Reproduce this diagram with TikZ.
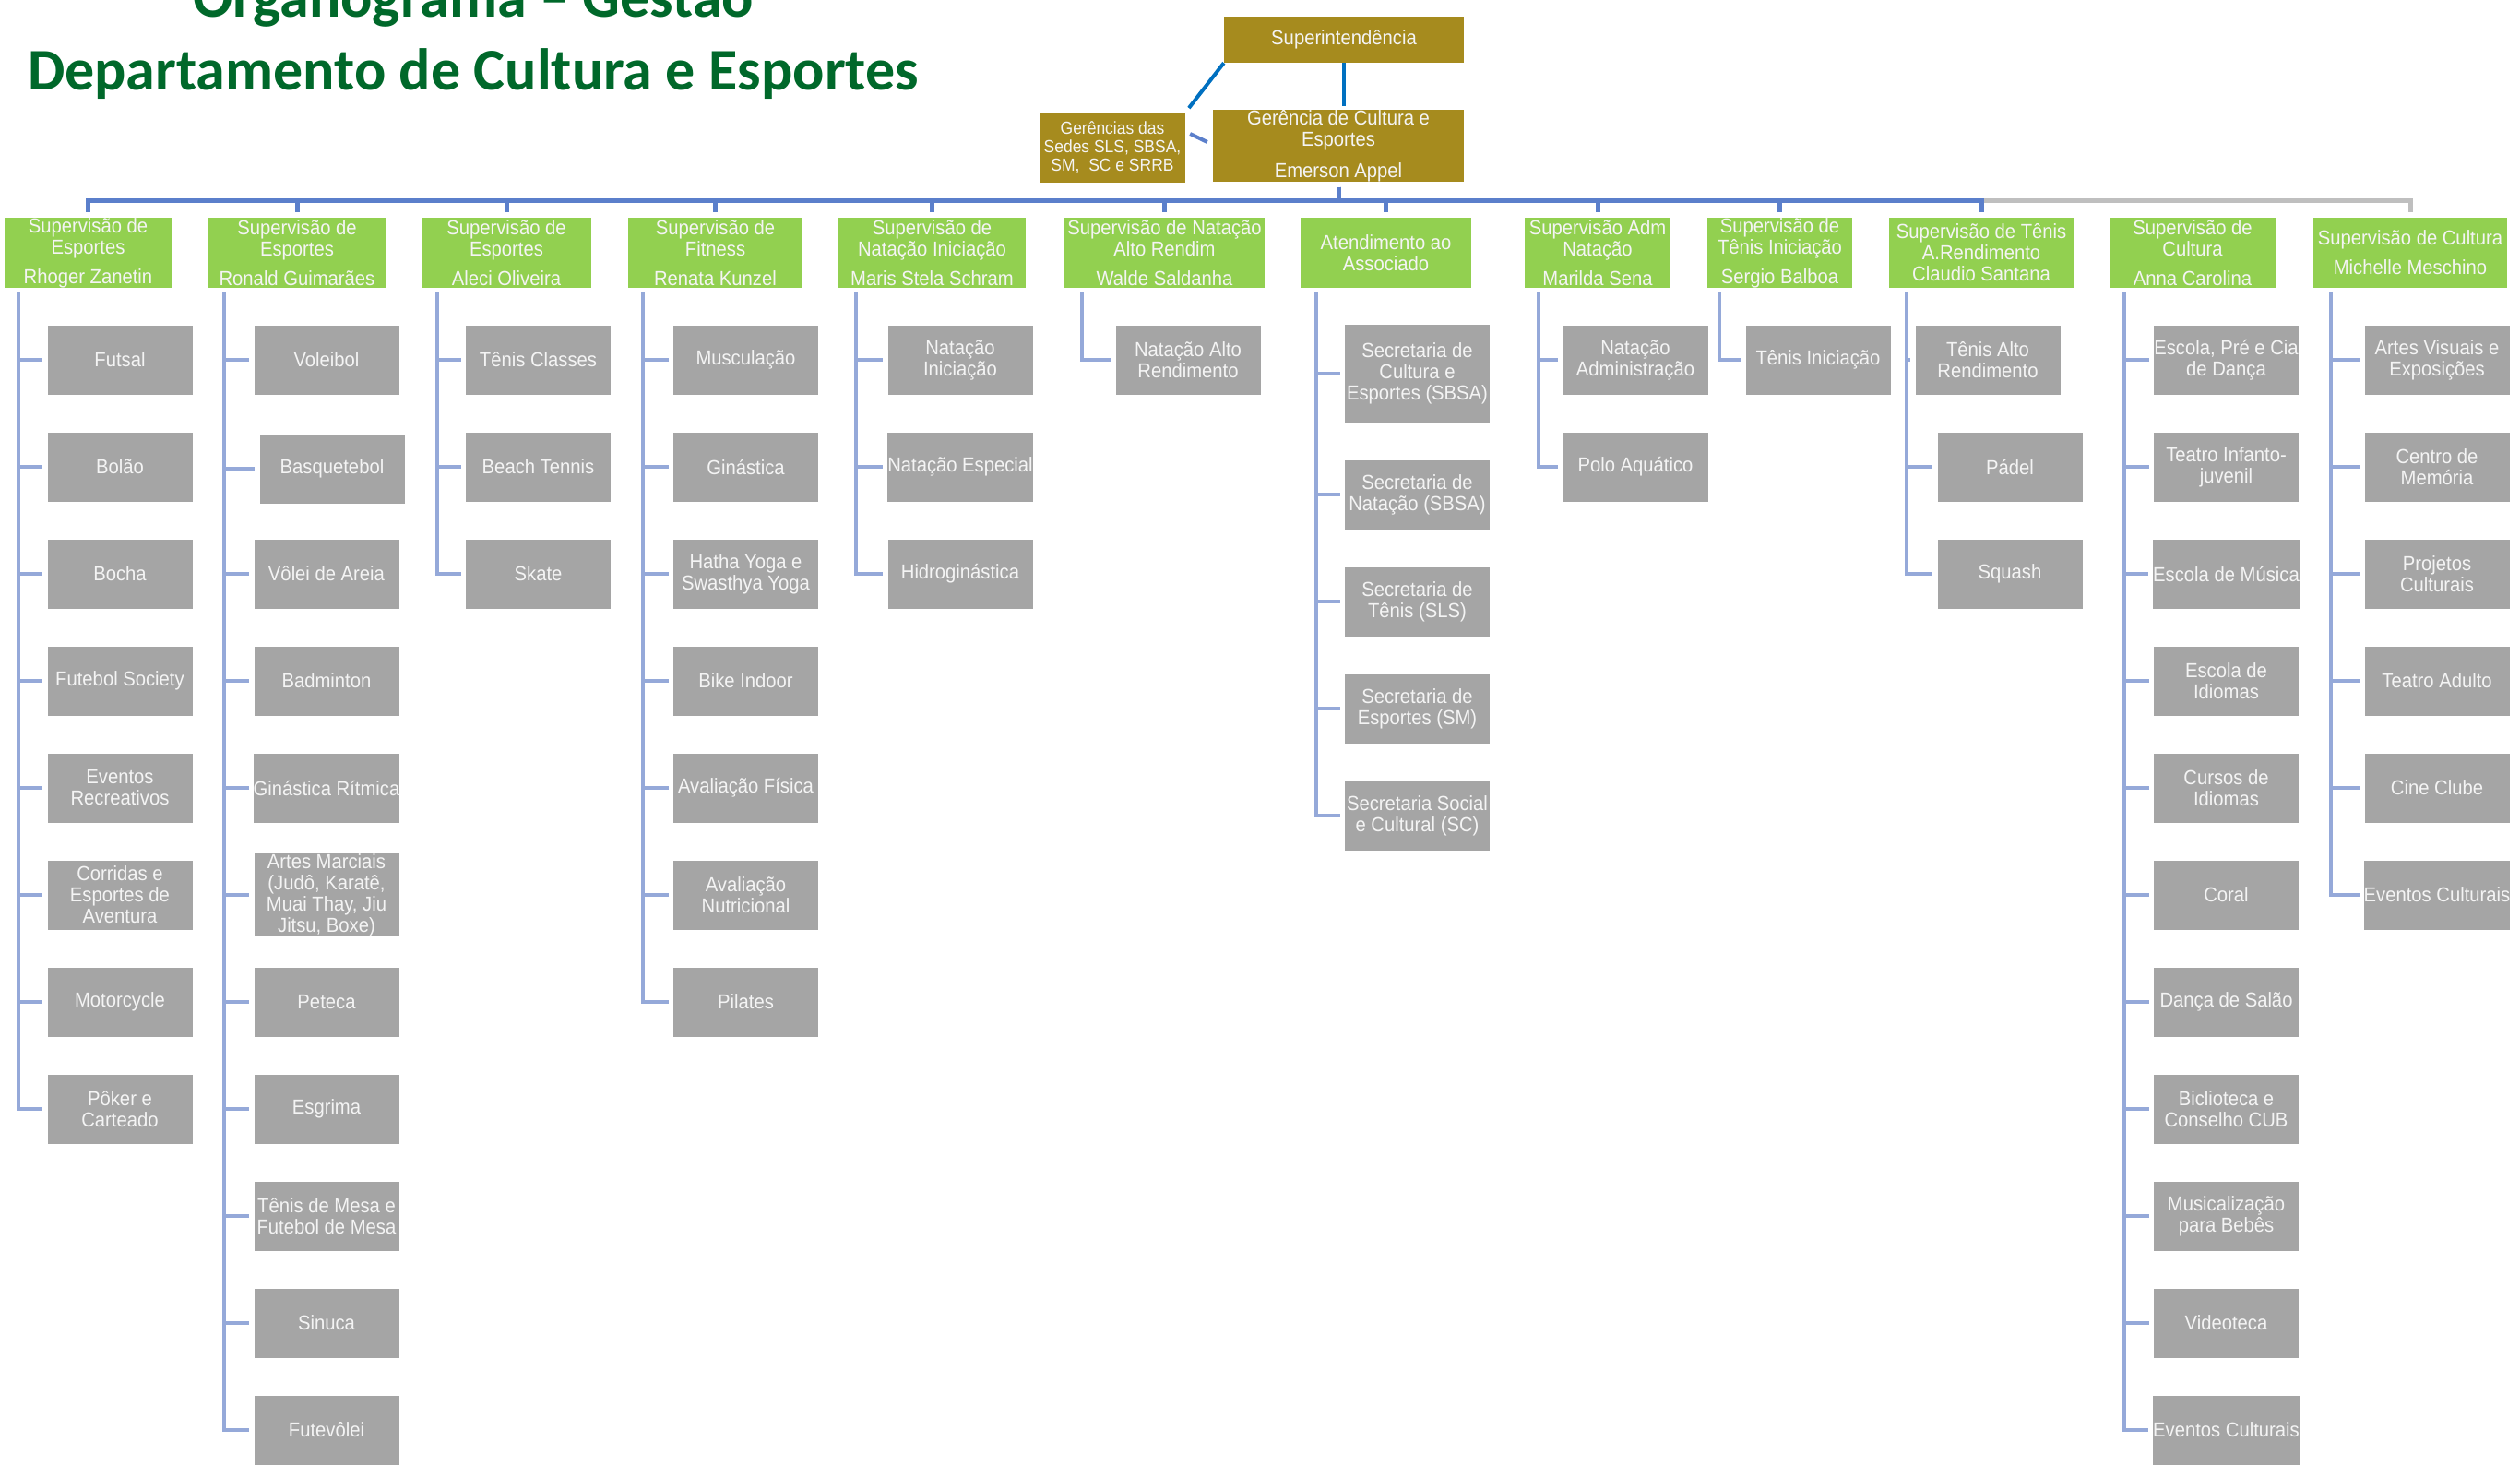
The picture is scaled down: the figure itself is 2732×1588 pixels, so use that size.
\documentclass[tikz,border=0pt]{standalone}
\usepackage{fontspec}
\setmainfont{Liberation Sans}
\newfontfamily\caixa[FakeStretch=0.92]{Liberation Sans}
\newfontfamily\titfont{Carlito}
\definecolor{verde}{HTML}{92D050}
\definecolor{cinza}{HTML}{A5A5A5}
\definecolor{ouro}{HTML}{A68B1E}
\definecolor{linha}{HTML}{95A9D9}
\definecolor{barra}{HTML}{5B7FCB}
\definecolor{barracinza}{HTML}{BFBFBF}
\definecolor{azul}{HTML}{0070C0}
\definecolor{titverde}{HTML}{00682A}
\definecolor{texto}{HTML}{F4F4F4}

\begin{document}
\begin{tikzpicture}[x=1pt, y=-1pt,
    every node/.style={inner sep=0pt, align=center, text=texto,
        font=\caixa\fontsize{22}{23}\selectfont},
    chefe/.style={fill=verde, minimum height=76pt},
    item/.style={fill=cinza, minimum width=157pt, minimum height=75pt},
    diretoria/.style={fill=ouro},
    ramo/.style={draw=linha, line width=4.5pt, shorten >=5pt},
    barramento/.style={draw=barra, line width=5pt, shorten <=6pt, shorten >=6pt},
    ligacao/.style={draw=azul, line width=4pt}]
    \useasboundingbox (0,0) rectangle (2732,1588);

    % titulo
    \node[anchor=base, text=titverde, font=\titfont\bfseries\fontsize{64}{72}\selectfont]
        (tit1) at (513,18) {Organograma – Gestão};
    \node[anchor=base, text=titverde, font=\titfont\bfseries\fontsize{64}{72}\selectfont]
        (tit2) at (513,97) {Departamento de Cultura e Esportes};

    \node[diretoria, minimum width=260pt, minimum height=50pt] (sup) at (1457,43)
        {Superintendência};
    \node[diretoria, minimum width=272pt, minimum height=76pt] (ger) at (1451,158)
        {Gerência de Cultura e\\Esportes\\[11pt]Emerson Appel};
    \node[diretoria, minimum width=158pt, minimum height=76pt,
        font=\caixa\fontsize{19}{20}\selectfont] (sedes) at (1206,160)
        {Gerências das\\Sedes SLS, SBSA,\\SM,\ \ SC e SRRB};

    \draw[ligacao, shorten >=4pt] (sup.south) -- (sup.south |- ger.north);
    \draw[ligacao, shorten >=6pt] (sup.south west) -- (sedes.north east);
    \draw[ligacao, draw=barra] ([shift={(5,-15)}]sedes.east) -- ([shift={(-6,-4)}]ger.west);

    % supervisoes
    \foreach \l/\r/\t [count=\i] in {
        5/186/{Supervisão de\\Esportes\\[9pt]Rhoger Zanetin},
        226/418/{Supervisão de\\Esportes\\[9pt]Ronald Guimarães},
        457/641/{Supervisão de\\Esportes\\[9pt]Aleci Oliveira},
        681/870/{Supervisão de\\Fitness\\[9pt]Renata Kunzel},
        909/1112/{Supervisão de\\Natação Iniciação\\[9pt]Maris Stela Schram},
        1154/1371/{Supervisão de Natação\\Alto Rendim\\[9pt]Walde Saldanha},
        1410/1595/{Atendimento ao\\Associado},
        1653/1811/{Supervisão Adm\\Natação\\[9pt]Marilda Sena},
        1851/2008/{Supervisão de\\Tênis Iniciação\\[9pt]Sergio Balboa},
        2048/2248/{Supervisão de Tênis\\A.Rendimento\\Claudio Santana},
        2287/2467/{Supervisão de\\Cultura\\[9pt]Anna Carolina},
        2508/2718/{Supervisão de Cultura\\[9pt]Michelle Meschino}}
        \node[chefe, minimum width=\r-\l] (s\i) at ({(\l+\r)/2},274) {\t};

    \coordinate (bus) at (1450,217);
    \draw[barramento, draw=barracinza, shorten <=0pt] (s10.north |- bus) -| (s12.north);
    \foreach \i in {1,...,10}
        \draw[barramento] (ger.south) -- (ger.south |- bus) -| (s\i.north);

    % topo das linhas de cada coluna
    \foreach \x [count=\c] in {20,243,474,697,928,1173,1427,1668,1864,2067,2303,2527}
        \coordinate (t\c) at (\x,317);

    \foreach \t [count=\j] in {Futsal, Bolão, Bocha, Futebol Society, Eventos\\Recreativos,
        Corridas e\\Esportes de\\Aventura, Motorcycle, Pôker e\\Carteado}
        \node[item] (c1-\j) at (130,{390+116*(\j-1)}) {\t};
    \foreach \t [count=\j] in {Voleibol, Basquetebol, Vôlei de Areia, Badminton,
        Ginástica Rítmica, {Artes Marciais\\(Judô, Karatê,\\Muai Thay, Jiu\\Jitsu, Boxe)},
        Peteca, Esgrima, Tênis de Mesa e\\Futebol de Mesa, Sinuca, Futevôlei}
        \node[item] (c2-\j) at ({354+ifthenelse(\j==2,6,0)},{390+116*(\j-1)+ifthenelse(\j==2,2,0)}) {\t};
    \foreach \t [count=\j] in {Tênis Classes, Beach Tennis, Skate}
        \node[item] (c3-\j) at (583.5,{390+116*(\j-1)}) {\t};
    \foreach \t [count=\j] in {Musculação, Ginástica, Hatha Yoga e\\Swasthya Yoga, Bike Indoor,
        Avaliação Física, Avaliação\\Nutricional, Pilates}
        \node[item] (c4-\j) at (808.5,{390+116*(\j-1)}) {\t};
    \foreach \t [count=\j] in {Natação\\Iniciação, Natação Especial, Hidroginástica}
        \node[item] (c5-\j) at (1041,{390+116*(\j-1)}) {\t};
    \node[item] (c6-1) at (1288,390) {Natação Alto\\Rendimento};
    \node[item, minimum height=107pt] (c7-1) at (1536.5,405) {Secretaria de\\Cultura e\\Esportes (SBSA)};
    \foreach \t [count=\j from 2] in {Secretaria de\\Natação (SBSA), Secretaria de\\Tênis (SLS),
        Secretaria de\\Esportes (SM), Secretaria Social\\e Cultural (SC)}
        \node[item] (c7-\j) at (1536.5,{536+116*(\j-2)}) {\t};
    \foreach \t [count=\j] in {Natação\\Administração, Polo Aquático}
        \node[item] (c8-\j) at (1773,{390+116*(\j-1)}) {\t};
    \node[item] (c9-1) at (1971,390) {Tênis Iniciação};
    \node[item] (c10-1) at (2155,390) {Tênis Alto\\Rendimento};
    \node[item] (c10-2) at (2179,506) {Pádel};
    \node[item] (c10-3) at (2179,622) {Squash};
    \foreach \t [count=\j] in {{Escola, Pré e Cia\\de Dança}, Teatro Infanto-\\juvenil,
        Escola de Música, Escola de\\Idiomas, Cursos de\\Idiomas, Coral, Dança de Salão,
        Biclioteca e\\Conselho CUB, Musicalização\\para Bebês, Videoteca, Eventos Culturais}
        \node[item] (c11-\j) at (2413.5,{390+116*(\j-1)}) {\t};
    \foreach \t [count=\j] in {Artes Visuais e\\Exposições, Centro de\\Memória, Projetos\\Culturais,
        Teatro Adulto, Cine Clube, Eventos Culturais}
        \node[item] (c12-\j) at (2642,{390+116*(\j-1)}) {\t};

    % ramos
    \foreach \c/\n in {1/8, 2/11, 3/3, 4/7, 5/3, 6/1, 7/5, 8/2, 9/1, 10/3, 11/11, 12/6}
        \foreach \j in {1,...,\n}
            \draw[ramo] (t\c) |- (c\c-\j.west);
\end{tikzpicture}
\end{document}
